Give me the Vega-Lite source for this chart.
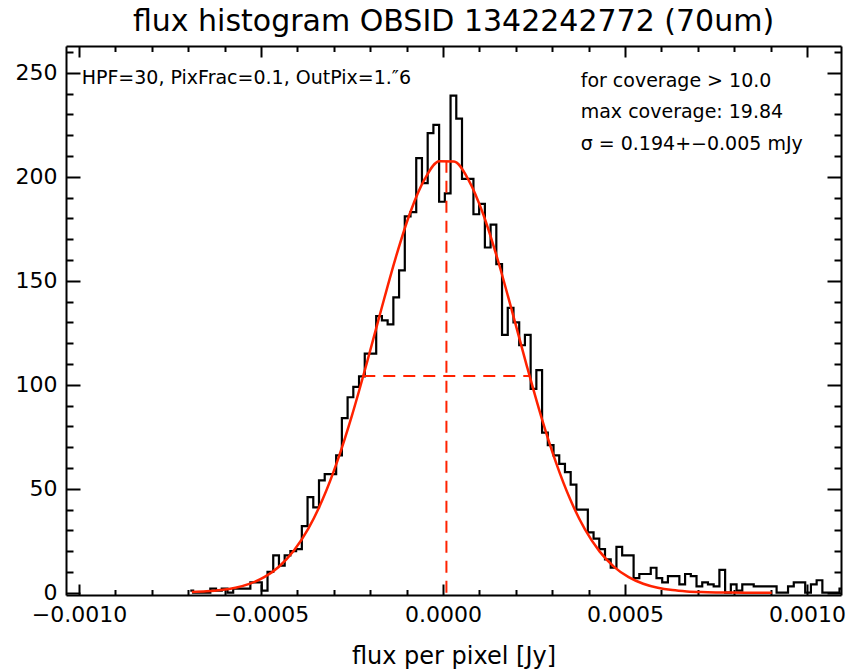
{
  "$schema": "https://vega.github.io/schema/vega-lite/v6.json",
  "width": 775,
  "height": 549,
  "autosize": {"type": "none"},
  "padding": {"left": 66, "top": 46, "right": 8, "bottom": 74},
  "background": "white",
  "title": {"text": "flux histogram OBSID 1342242772 (70um)", "font": "DejaVu Sans", "fontSize": 30, "fontWeight": "normal", "color": "black", "anchor": "middle", "offset": 4},
  "config": {
    "view": {"stroke": null},
    "font": "DejaVu Sans",
    "axis": {"grid": false, "domainColor": "black", "domainWidth": 2, "tickColor": "black", "tickWidth": 2, "labelColor": "black", "labelFont": "DejaVu Sans", "labelFontSize": 22, "titleFont": "DejaVu Sans", "titleFontWeight": "normal", "titleColor": "black", "labelFlush": false, "labelOverlap": false}
  },
  "datasets": {
    "hist": [
      {"x": -0.00069423, "count": 1}, {"x": -0.00067852, "count": 0}, {"x": -0.0006628, "count": 0}, {"x": -0.00064709, "count": 0},
      {"x": -0.00063137, "count": 2}, {"x": -0.00061566, "count": 1}, {"x": -0.00059994, "count": 2}, {"x": -0.00058423, "count": 0},
      {"x": -0.00056852, "count": 2}, {"x": -0.0005528, "count": 2}, {"x": -0.00053709, "count": 2}, {"x": -0.00052137, "count": 5},
      {"x": -0.00050566, "count": 5}, {"x": -0.00048994, "count": 1}, {"x": -0.00047423, "count": 10}, {"x": -0.00045852, "count": 18},
      {"x": -0.0004428, "count": 13}, {"x": -0.00042709, "count": 18}, {"x": -0.00041137, "count": 20}, {"x": -0.00039566, "count": 21},
      {"x": -0.00037994, "count": 32}, {"x": -0.00036423, "count": 46}, {"x": -0.00034852, "count": 41}, {"x": -0.0003328, "count": 54},
      {"x": -0.00031709, "count": 57}, {"x": -0.00030137, "count": 57}, {"x": -0.00028566, "count": 66}, {"x": -0.00026994, "count": 84},
      {"x": -0.00025423, "count": 94}, {"x": -0.00023852, "count": 99}, {"x": -0.0002228, "count": 104}, {"x": -0.00020709, "count": 115},
      {"x": -0.00019137, "count": 115}, {"x": -0.00017566, "count": 133}, {"x": -0.00015994, "count": 131}, {"x": -0.00014423, "count": 129},
      {"x": -0.00012852, "count": 142}, {"x": -0.0001128, "count": 155}, {"x": -0.00009709, "count": 181}, {"x": -0.00008137, "count": 183},
      {"x": -0.00006566, "count": 209}, {"x": -0.00004994, "count": 197}, {"x": -0.00003423, "count": 221}, {"x": -0.00001852, "count": 225},
      {"x": -0.0000028, "count": 188}, {"x": 0.00001291, "count": 192}, {"x": 0.00002863, "count": 239}, {"x": 0.00004434, "count": 228},
      {"x": 0.00006006, "count": 199}, {"x": 0.00007577, "count": 199}, {"x": 0.00009148, "count": 182}, {"x": 0.0001072, "count": 187},
      {"x": 0.00012291, "count": 166}, {"x": 0.00013863, "count": 177}, {"x": 0.00015434, "count": 158}, {"x": 0.00017006, "count": 124},
      {"x": 0.00018577, "count": 137}, {"x": 0.00020148, "count": 130}, {"x": 0.0002172, "count": 119}, {"x": 0.00023291, "count": 124},
      {"x": 0.00024863, "count": 98}, {"x": 0.00026434, "count": 107}, {"x": 0.00028006, "count": 77}, {"x": 0.00029577, "count": 71},
      {"x": 0.00031148, "count": 66}, {"x": 0.0003272, "count": 62}, {"x": 0.00034291, "count": 58}, {"x": 0.00035863, "count": 52},
      {"x": 0.00037434, "count": 40}, {"x": 0.00039006, "count": 40}, {"x": 0.00040577, "count": 29}, {"x": 0.00042148, "count": 26},
      {"x": 0.0004372, "count": 21}, {"x": 0.00045291, "count": 16}, {"x": 0.00046863, "count": 12}, {"x": 0.00048434, "count": 22},
      {"x": 0.00050006, "count": 18}, {"x": 0.00051577, "count": 18}, {"x": 0.00053148, "count": 7}, {"x": 0.0005472, "count": 9},
      {"x": 0.00056291, "count": 9}, {"x": 0.00057863, "count": 12}, {"x": 0.00059434, "count": 7}, {"x": 0.00061006, "count": 5},
      {"x": 0.00062577, "count": 8}, {"x": 0.00064148, "count": 8}, {"x": 0.0006572, "count": 4}, {"x": 0.00067291, "count": 9},
      {"x": 0.00068863, "count": 8}, {"x": 0.00070434, "count": 3}, {"x": 0.00072006, "count": 5}, {"x": 0.00073577, "count": 4},
      {"x": 0.00075148, "count": 3}, {"x": 0.0007672, "count": 11}, {"x": 0.00078291, "count": 0}, {"x": 0.00079863, "count": 4},
      {"x": 0.00081434, "count": 1}, {"x": 0.00083006, "count": 4}, {"x": 0.00084577, "count": 4}, {"x": 0.00086148, "count": 3},
      {"x": 0.0008772, "count": 3}, {"x": 0.00089291, "count": 3}, {"x": 0.00090863, "count": 3}, {"x": 0.00092434, "count": 0},
      {"x": 0.00094006, "count": 0}, {"x": 0.00095577, "count": 3}, {"x": 0.00097148, "count": 5}, {"x": 0.0009872, "count": 5},
      {"x": 0.00100291, "count": 0}, {"x": 0.00101863, "count": 4}, {"x": 0.00103434, "count": 6}, {"x": 0.00105006, "count": 0},
      {"x": 0.00106577, "count": 0}, {"x": 0.00108148, "count": 0}, {"x": 0.0010972, "count": 2}
    ],
    "gauss": [
      {"gx": -0.00069, "gy": 0.314}, {"gx": -0.00065, "gy": 0.646}, {"gx": -0.00061, "gy": 1.275}, {"gx": -0.00057, "gy": 2.412},
      {"gx": -0.00053, "gy": 4.37}, {"gx": -0.00049, "gy": 7.588}, {"gx": -0.00045, "gy": 12.63}, {"gx": -0.00041, "gy": 20.15},
      {"gx": -0.00037, "gy": 30.8}, {"gx": -0.00033, "gy": 45.13}, {"gx": -0.00029, "gy": 63.38}, {"gx": -0.00025, "gy": 85.29},
      {"gx": -0.00021, "gy": 110.0}, {"gx": -0.00017, "gy": 135.96}, {"gx": -0.00013, "gy": 161.06}, {"gx": -0.00009, "gy": 182.85},
      {"gx": -0.00005, "gy": 198.95}, {"gx": -0.00001, "gy": 207.46}, {"gx": 0.00003, "gy": 207.33}, {"gx": 0.00007, "gy": 198.57},
      {"gx": 0.00011, "gy": 182.26}, {"gx": 0.00015, "gy": 160.35}, {"gx": 0.00019, "gy": 135.18}, {"gx": 0.00023, "gy": 109.23},
      {"gx": 0.00027, "gy": 84.58}, {"gx": 0.00031, "gy": 62.77}, {"gx": 0.00035, "gy": 44.65}, {"gx": 0.00039, "gy": 30.43},
      {"gx": 0.00043, "gy": 19.88}, {"gx": 0.00047, "gy": 12.45}, {"gx": 0.00051, "gy": 7.47}, {"gx": 0.00055, "gy": 4.3},
      {"gx": 0.00059, "gy": 2.37}, {"gx": 0.00063, "gy": 1.25}, {"gx": 0.00067, "gy": 0.632}, {"gx": 0.00071, "gy": 0.307},
      {"gx": 0.00075, "gy": 0.143}, {"gx": 0.00079, "gy": 0.064}, {"gx": 0.00083, "gy": 0.027}, {"gx": 0.00087, "gy": 0.011},
      {"gx": 0.000903, "gy": 0.005}
    ],
    "guides": [
      {"x1": 0.0000094, "x2": 0.0000094, "y1": 0, "y2": 208.5},
      {"x1": -0.000219, "x2": 0.0002378, "y1": 104.25, "y2": 104.25}
    ],
    "notes": [
      {"tx": -0.0009926, "ty": 244.6, "label": "HPF=30, PixFrac=0.1, OutPix=1.″6"},
      {"tx": 0.0003783, "ty": 243.0, "label": "for coverage > 10.0"},
      {"tx": 0.0003783, "ty": 228.1, "label": "max coverage: 19.84"},
      {"tx": 0.0003783, "ty": 212.8, "label": "σ = 0.194+−0.005 mJy"}
    ]
  },
  "layer": [
    {
      "data": {"name": "hist"},
      "mark": {"type": "line", "interpolate": "step", "color": "black", "strokeWidth": 2.2, "clip": true, "strokeJoin": "miter"},
      "encoding": {
        "x": {"field": "x", "type": "quantitative",
          "scale": {"domain": [-0.0010357, 0.0010934], "nice": false, "zero": false},
          "axis": {"orient": "bottom", "title": "flux per pixel [Jy]", "titleFontSize": 24, "titlePadding": 14,
            "values": [-0.001, -0.0009, -0.0008, -0.0007, -0.0006, -0.0005, -0.0004, -0.0003, -0.0002, -0.0001, 0, 0.0001, 0.0002, 0.0003, 0.0004, 0.0005, 0.0006, 0.0007, 0.0008, 0.0009, 0.001],
            "labelExpr": "abs(round(datum.value*10000)) % 5 == 0 ? format(datum.value, '.4f') : ''",
            "tickSize": {"condition": {"test": "abs(round(datum.value*10000)) % 5 == 0", "value": -11}, "value": -5.5},
            "labelPadding": 20}},
        "y": {"field": "count", "type": "quantitative",
          "scale": {"domain": [-1.1, 262.9], "nice": false, "zero": false},
          "axis": {"orient": "left", "title": null,
            "values": [0, 10, 20, 30, 40, 50, 60, 70, 80, 90, 100, 110, 120, 130, 140, 150, 160, 170, 180, 190, 200, 210, 220, 230, 240, 250, 260],
            "labelExpr": "datum.value % 50 == 0 ? format(datum.value, 'd') : ''",
            "tickSize": {"condition": {"test": "datum.value % 50 == 0", "value": -14}, "value": -7},
            "labelPadding": 23}}
      }
    },
    {
      "data": {"name": "gauss"},
      "mark": {"type": "line", "interpolate": "monotone", "color": "#ff2200", "strokeWidth": 2.5, "clip": true},
      "encoding": {
        "x": {"field": "gx", "type": "quantitative",
          "scale": {"domain": [-0.0010357, 0.0010934], "nice": false, "zero": false},
          "axis": {"orient": "top", "title": null, "labels": false,
            "values": [-0.001, -0.0009, -0.0008, -0.0007, -0.0006, -0.0005, -0.0004, -0.0003, -0.0002, -0.0001, 0, 0.0001, 0.0002, 0.0003, 0.0004, 0.0005, 0.0006, 0.0007, 0.0008, 0.0009, 0.001],
            "tickSize": {"condition": {"test": "abs(round(datum.value*10000)) % 5 == 0", "value": -11}, "value": -5.5}}},
        "y": {"field": "gy", "type": "quantitative",
          "scale": {"domain": [-1.1, 262.9], "nice": false, "zero": false},
          "axis": {"orient": "right", "title": null, "labels": false,
            "values": [0, 10, 20, 30, 40, 50, 60, 70, 80, 90, 100, 110, 120, 130, 140, 150, 160, 170, 180, 190, 200, 210, 220, 230, 240, 250, 260],
            "tickSize": {"condition": {"test": "datum.value % 50 == 0", "value": -14}, "value": -7}}}
      }
    },
    {
      "data": {"name": "guides"},
      "mark": {"type": "rule", "color": "#ff2200", "strokeWidth": 2, "strokeDash": [12, 8]},
      "encoding": {
        "x": {"field": "x1", "type": "quantitative", "axis": null},
        "x2": {"field": "x2"},
        "y": {"field": "y1", "type": "quantitative", "axis": null},
        "y2": {"field": "y2"}
      }
    },
    {
      "data": {"name": "notes"},
      "mark": {"type": "text", "align": "left", "baseline": "alphabetic", "font": "DejaVu Sans", "fontSize": 19, "color": "black"},
      "encoding": {
        "x": {"field": "tx", "type": "quantitative", "axis": null},
        "y": {"field": "ty", "type": "quantitative", "axis": null},
        "text": {"field": "label"}
      }
    }
  ],
  "resolve": {"axis": {"x": "independent", "y": "independent"}}
}
